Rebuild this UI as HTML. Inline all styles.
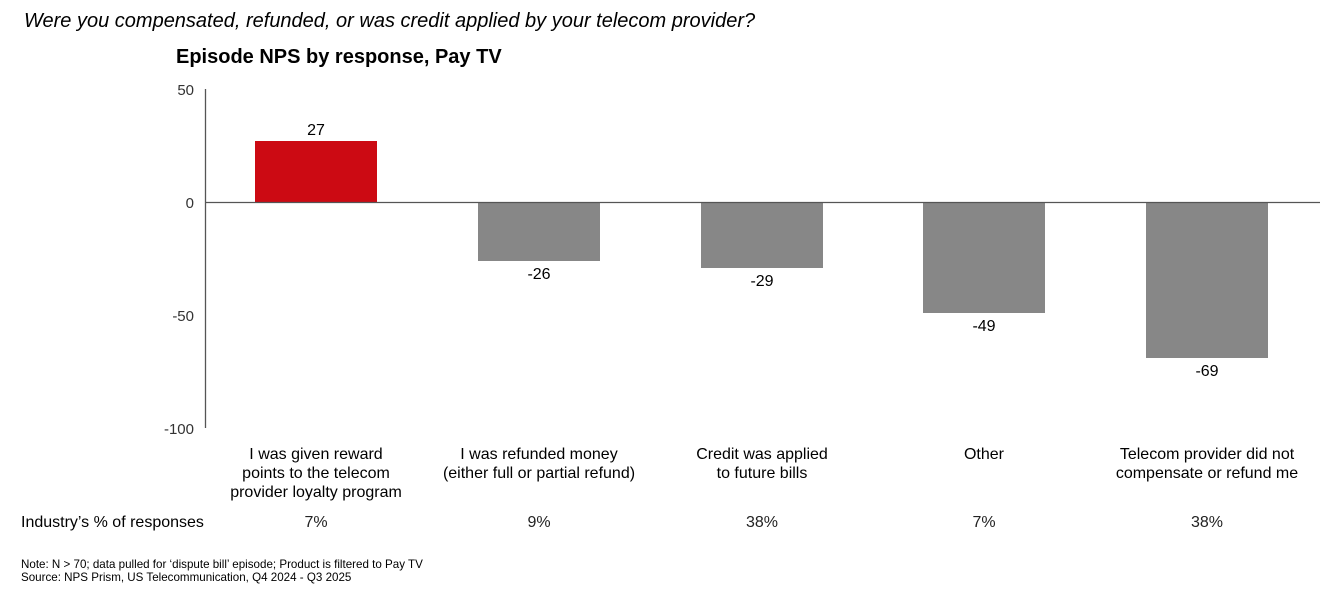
<!DOCTYPE html>
<html><head><meta charset="utf-8"><style>
body{margin:0;background:#fff;width:1331px;height:587px;overflow:hidden}
svg text{font-family:"Liberation Sans",Arial,sans-serif}
</style></head><body>
<svg width="1331" height="587" xmlns="http://www.w3.org/2000/svg">
<text x="24" y="27" font-size="20" font-style="italic" fill="#000">Were you compensated, refunded, or was credit applied by your telecom provider?</text>
<text x="176" y="63" font-size="20" font-weight="bold" fill="#000">Episode NPS by response, Pay TV</text>
<g font-size="15" fill="#333" text-anchor="end">
<text x="194" y="95">50</text><text x="194" y="208">0</text><text x="194" y="321">-50</text><text x="194" y="434">-100</text>
</g>
<line x1="205.5" y1="89" x2="205.5" y2="428" stroke="#555" stroke-width="1.3"/>
<rect x="255" y="141" width="122" height="61" fill="#cc0a13"/>
<g fill="#878787">
<rect x="478" y="202" width="122" height="59"/>
<rect x="701" y="202" width="122" height="66"/>
<rect x="923" y="202" width="122" height="111"/>
<rect x="1146" y="202" width="122" height="156"/>
</g>
<line x1="205" y1="202.5" x2="1320" y2="202.5" stroke="#555" stroke-width="1.3"/>
<g font-size="16" fill="#000" text-anchor="middle">
<text x="316" y="135">27</text>
<text x="539" y="279">-26</text>
<text x="762" y="286">-29</text>
<text x="984" y="331">-49</text>
<text x="1207" y="376">-69</text>
</g>
<g font-size="16" fill="#000" text-anchor="middle">
<text x="316" y="459">I was given reward</text><text x="316" y="478">points to the telecom</text><text x="316" y="497">provider loyalty program</text>
<text x="539" y="459">I was refunded money</text><text x="539" y="478">(either full or partial refund)</text>
<text x="762" y="459">Credit was applied</text><text x="762" y="478">to future bills</text>
<text x="984" y="459">Other</text>
<text x="1207" y="459">Telecom provider did not</text><text x="1207" y="478">compensate or refund me</text>
</g>
<text x="21" y="527" font-size="16" fill="#000">Industry’s % of responses</text>
<g font-size="16" fill="#222" text-anchor="middle">
<text x="316" y="527">7%</text><text x="539" y="527">9%</text><text x="762" y="527">38%</text><text x="984" y="527">7%</text><text x="1207" y="527">38%</text>
</g>
<text x="21" y="568" font-size="11.6" fill="#000">Note: N &gt; 70; data pulled for ‘dispute bill’ episode; Product is filtered to Pay TV</text>
<text x="21" y="581" font-size="11.6" fill="#000">Source: NPS Prism, US Telecommunication, Q4 2024 - Q3 2025</text>
</svg>
</body></html>
